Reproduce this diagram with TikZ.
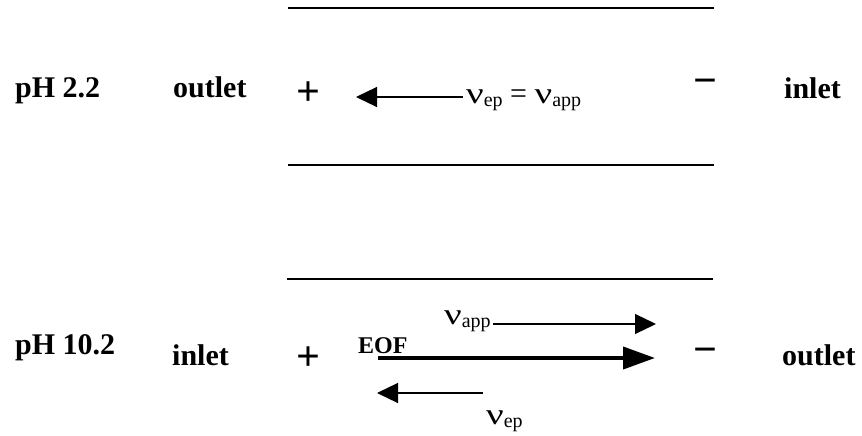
\documentclass[tikz,border=0pt]{standalone}
\usepackage{graphicx}
\usepackage{fontspec}
\setmainfont{Liberation Serif}
\usetikzlibrary{arrows.meta}
\newcommand\nusub[1]{\scalebox{1.3}[1]{ν}\raisebox{-3pt}{\fontsize{20}{20}\selectfont #1}}
\begin{document}
\begin{tikzpicture}[x=1pt,y=-1pt,
  lbl/.style={inner sep=0pt,anchor=base west,font=\fontsize{30}{30}\selectfont\bfseries},
  sign/.style={inner sep=0pt,anchor=base,font=\fontsize{42}{42}\selectfont\bfseries},
  nulbl/.style={inner sep=0pt,anchor=base west,font=\fontsize{30}{30}\selectfont},
  wall/.style={line width=1.5pt},
  thinarrow/.style={line width=1.2pt,-{Triangle[length=21pt,width=20pt]}},
  thickarrow/.style={line width=4pt,-{Triangle[length=32pt,width=22pt]}}]
\useasboundingbox (0,0) rectangle (862,436);
% capillary walls
\coordinate (w1a) at (288,8);   \coordinate (w1b) at (714,8);
\coordinate (w2a) at (288,165); \coordinate (w2b) at (714,165);
\coordinate (w3a) at (287,279); \coordinate (w3b) at (713,279);
\draw[wall] (w1a) -- (w1b);
\draw[wall] (w2a) -- (w2b);
\draw[wall] (w3a) -- (w3b);
% top: pH 2.2
\node[lbl] (ph1) at (15,97) {pH 2.2};
\node[lbl] (out1) at (173,97) {outlet};
\node[lbl] (in1) at (784,99) {inlet};
\node[sign] (plus1) at (308,105) {+};
\node[sign] (minus1) at (705,94) {−};
\node[nulbl] (lab1) at (466,103) {\nusub{ep} = \nusub{app}};
\coordinate (a1s) at (463,97);
\coordinate (a1e) at (356,97);
\draw[thinarrow] (a1s) -- (a1e);
% bottom: pH 10.2
\node[lbl] (ph2) at (15,354) {pH 10.2};
\node[lbl] (in2) at (172,365) {inlet};
\node[lbl] (out2) at (782,365) {outlet};
\node[sign] (plus2) at (308,370) {+};
\node[sign] (minus2) at (705,363) {−};
\node[lbl,font=\fontsize{24}{24}\selectfont\bfseries] (eof) at (358,353) {EOF};
\coordinate (a2s) at (378,358);
\coordinate (a2e) at (655,358);
\draw[thickarrow] (a2s) -- (a2e);
\node[nulbl] (lab2) at (444,324) {\nusub{app}};
\coordinate (a3s) at (493,324);
\coordinate (a3e) at (656,324);
\draw[thinarrow] (a3s) -- (a3e);
\node[nulbl] (lab3) at (486,424) {\nusub{ep}};
\coordinate (a4s) at (483,393);
\coordinate (a4e) at (377,393);
\draw[thinarrow] (a4s) -- (a4e);
\end{tikzpicture}
\end{document}
